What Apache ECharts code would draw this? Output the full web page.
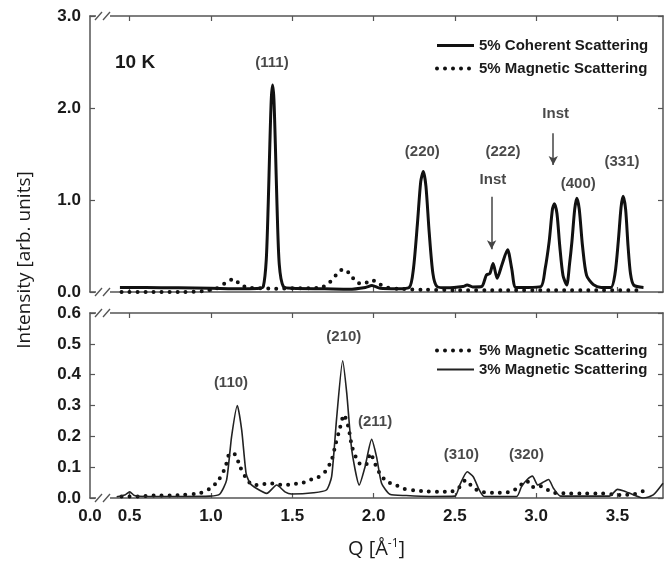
<!DOCTYPE html>
<html lang="en">
<head>
<meta charset="UTF-8">
<title>10 K scattering</title>
<script src="https://cdn.jsdelivr.net/npm/echarts@6.0.0/dist/echarts.min.js"></script>
<style>html,body{margin:0;padding:0;background:#fff;}</style>
</head>
<body>
<div id="main" style="width:670px;height:567px;"></div>
<script type="text/javascript">
// Q [1/A] vs intensity
var coherent5 = [[0.44,0.05],[0.6,0.05],[0.8,0.045],[1.0,0.04],[1.2,0.035],[1.30,0.04],[1.322,0.06],[1.34,0.35],[1.352,0.95],[1.362,1.6],[1.371,2.1],[1.379,2.25],[1.387,2.1],[1.396,1.6],[1.406,0.95],[1.42,0.3],[1.445,0.06],[1.5,0.04],[1.7,0.035],[1.85,0.03],[1.95,0.05],[1.99,0.07],[2.04,0.04],[2.15,0.035],[2.22,0.05],[2.245,0.25],[2.27,0.75],[2.29,1.2],[2.306,1.31],[2.322,1.15],[2.342,0.65],[2.365,0.2],[2.39,0.06],[2.45,0.045],[2.55,0.06],[2.575,0.076],[2.61,0.055],[2.665,0.06],[2.694,0.185],[2.715,0.2],[2.735,0.31],[2.76,0.15],[2.79,0.3],[2.824,0.46],[2.85,0.25],[2.875,0.05],[2.95,0.05],[3.03,0.06],[3.055,0.25],[3.08,0.55],[3.1,0.9],[3.112,0.96],[3.128,0.85],[3.145,0.5],[3.165,0.18],[3.188,0.076],[3.205,0.3],[3.22,0.55],[3.237,0.9],[3.25,1.02],[3.265,0.9],[3.285,0.5],[3.31,0.18],[3.352,0.08],[3.4,0.05],[3.46,0.05],[3.485,0.2],[3.505,0.55],[3.522,0.92],[3.535,1.04],[3.55,0.9],[3.565,0.5],[3.58,0.2],[3.60,0.075],[3.66,0.05]];
var magnetic5Top = [[0.45,0.0],[0.6,0.0],[0.8,0.0],[0.95,0.01],[1.035,0.04],[1.09,0.10],[1.137,0.14],[1.185,0.076],[1.234,0.047],[1.3,0.04],[1.4,0.035],[1.5,0.04],[1.6,0.04],[1.68,0.05],[1.728,0.10],[1.769,0.185],[1.814,0.25],[1.855,0.195],[1.892,0.11],[1.937,0.087],[1.988,0.13],[2.035,0.087],[2.08,0.05],[2.15,0.035],[2.3,0.025],[2.5,0.02],[2.8,0.02],[3.1,0.02],[3.4,0.02],[3.64,0.02]];
var magnetic5 = [[0.45,0.005],[0.55,0.005],[0.65,0.008],[0.75,0.008],[0.83,0.01],[0.9,0.013],[0.94,0.017],[0.994,0.031],[1.04,0.053],[1.086,0.096],[1.117,0.145],[1.15,0.14],[1.18,0.10],[1.217,0.064],[1.257,0.042],[1.3,0.042],[1.35,0.048],[1.4,0.045],[1.45,0.042],[1.5,0.045],[1.557,0.048],[1.605,0.058],[1.654,0.066],[1.702,0.085],[1.742,0.123],[1.769,0.18],[1.79,0.22],[1.818,0.27],[1.845,0.23],[1.866,0.17],[1.89,0.134],[1.926,0.107],[1.957,0.11],[1.98,0.145],[2.01,0.11],[2.043,0.075],[2.084,0.053],[2.136,0.042],[2.187,0.03],[2.25,0.025],[2.3,0.022],[2.4,0.02],[2.47,0.02],[2.52,0.031],[2.566,0.058],[2.61,0.035],[2.66,0.02],[2.75,0.017],[2.82,0.018],[2.86,0.024],[2.9,0.04],[2.94,0.056],[2.977,0.035],[3.015,0.04],[3.06,0.03],[3.1,0.017],[3.2,0.015],[3.3,0.015],[3.4,0.015],[3.52,0.01],[3.6,0.012],[3.663,0.024]];
var magnetic3 = [[0.42,0.004],[0.47,0.01],[0.5,0.02],[0.53,0.008],[0.6,0.005],[0.8,0.005],[0.994,0.006],[1.055,0.013],[1.096,0.058],[1.127,0.20],[1.162,0.30],[1.189,0.22],[1.216,0.08],[1.24,0.048],[1.281,0.031],[1.343,0.015],[1.404,0.042],[1.455,0.02],[1.496,0.013],[1.63,0.017],[1.71,0.026],[1.742,0.069],[1.773,0.26],[1.81,0.445],[1.835,0.34],[1.866,0.155],[1.912,0.042],[1.947,0.10],[1.988,0.19],[2.018,0.134],[2.049,0.048],[2.1,0.012],[2.2,0.008],[2.35,0.005],[2.5,0.006],[2.53,0.042],[2.576,0.085],[2.613,0.069],[2.65,0.026],[2.68,0.005],[2.88,0.005],[2.91,0.037],[2.945,0.06],[2.977,0.071],[3.01,0.042],[3.04,0.05],[3.076,0.06],[3.107,0.031],[3.15,0.006],[3.45,0.006],[3.5,0.028],[3.54,0.023],[3.6,0.01],[3.66,0.0],[3.72,0.01],[3.78,0.048]];

// peak annotations: [text, Q, intensity]
var topLabels = [['(111)',1.375,2.49],['(220)',2.30,1.52],['(222)',2.796,1.52],['Inst',2.734,1.22],['Inst',3.12,1.94],['(400)',3.259,1.18],['(331)',3.528,1.42]];
var topArrows = [[2.726,1.036,0.464],[3.105,1.725,1.38]]; // Q, from, to
var bottomLabels = [['(110)',1.123,0.372],['(210)',1.817,0.522],['(211)',2.009,0.247],['(310)',2.54,0.139],['(320)',2.94,0.139]];

// axis break: left edge is labelled 0.0
var xMin = 0.256, xMax = 3.78;
var xTicks = [0.5, 1.0, 1.5, 2.0, 2.5, 3.0, 3.5];

var chart = echarts.init(document.getElementById('main'));

var LEFT = 90, WIDTH = 573;
var TOP1 = 16, H1 = 276, TOP2 = 313, H2 = 185;
var AX = '#555';
var FONT = '"Liberation Sans", Arial, sans-serif';
var SANS = '"Open Sans", sans-serif';

function xAxisOf(g, pos, labels) {
    return {
        gridIndex: g, type: 'value', position: pos, min: xMin, max: xMax,
        axisLine: {onZero: false, lineStyle: {color: AX, width: 1.5}},
        axisTick: {inside: true, length: 5, customValues: xTicks, lineStyle: {color: AX, width: 1.2}},
        axisLabel: labels ? {
            customValues: [xMin].concat(xTicks), margin: 10, fontSize: 17, fontWeight: 'bold', color: '#1a1a1a', fontFamily: FONT,
            formatter: function (v) { return v < 0.4 ? '0.0' : v.toFixed(1); }
        } : {show: false},
        splitLine: {show: false}
    };
}
function yAxisOf(g, pos, max, step, labels) {
    return {
        gridIndex: g, type: 'value', position: pos, min: 0, max: max, interval: step,
        axisLine: {show: true, lineStyle: {color: AX, width: 1.5}},
        axisTick: {show: true, inside: true, length: 5, lineStyle: {color: AX, width: 1.2}},
        axisLabel: labels ? {margin: 9, fontSize: 17, fontWeight: 'bold', color: '#1a1a1a', fontFamily: FONT,
            formatter: function (v) { return v.toFixed(1); }} : {show: false},
        splitLine: {show: false}
    };
}

function labelSeries(list, xi, yi) {
    return {
        type: 'scatter', xAxisIndex: xi, yAxisIndex: yi, silent: true,
        symbolSize: 1, itemStyle: {color: 'transparent'},
        label: {show: true, position: 'inside', formatter: '{b}', color: '#1a1a1a',
            fontSize: 15, fontWeight: 'bold', fontFamily: FONT},
        data: list.map(function (d) { return {name: d[0], value: [d[1], d[2]]}; }),
        z: 5
    };
}

// "//" break marks on the x axis lines
var breaks = [];
[TOP1, TOP1 + H1, TOP2, TOP2 + H2].forEach(function (y) {
    breaks.push({type: 'rect', shape: {x: 96, y: y - 3, width: 14, height: 6}, style: {fill: '#fff'}, z: 100});
    breaks.push({type: 'line', shape: {x1: 95, y1: y + 4, x2: 102, y2: y - 4}, style: {stroke: AX, lineWidth: 1.3}, z: 101});
    breaks.push({type: 'line', shape: {x1: 103, y1: y + 4, x2: 110, y2: y - 4}, style: {stroke: AX, lineWidth: 1.3}, z: 101});
});

var dotted = {color: '#111', width: 4, type: [0, 8], cap: 'round'};
var solidThick = {color: '#111', width: 3};
var solidThin = {color: '#222', width: 1.6};
var legendText = {fontSize: 15, fontWeight: 'bold', color: '#1a1a1a', fontFamily: FONT};
var noMarker = {color: 'transparent', borderColor: 'transparent', borderWidth: 0, opacity: 0};

var option = {
    animation: false,
    backgroundColor: '#fff',
    title: {text: '10 K', left: 110, top: 48, textStyle: {fontSize: 19, fontWeight: 'bold', color: '#1a1a1a', fontFamily: FONT}},
    grid: [
        {left: LEFT, top: TOP1, width: WIDTH, height: H1},
        {left: LEFT, top: TOP2, width: WIDTH, height: H2}
    ],
    xAxis: [
        xAxisOf(0, 'bottom', false),
        xAxisOf(0, 'top', false),
        Object.assign(xAxisOf(1, 'bottom', true), {
            name: 'Q [Å{sup|-1}]', nameLocation: 'middle', nameGap: 40,
            nameTextStyle: {fontSize: 20, color: '#1a1a1a', fontFamily: SANS,
                rich: {sup: {fontSize: 12, verticalAlign: 'top', padding: [0, 0, 10, 0], fontFamily: SANS, color: '#1a1a1a'}}}
        }),
        xAxisOf(1, 'top', false)
    ],
    yAxis: [
        yAxisOf(0, 'left', 3, 1, true),
        yAxisOf(0, 'right', 3, 1, false),
        yAxisOf(1, 'left', 0.6, 0.1, true),
        yAxisOf(1, 'right', 0.6, 0.1, false)
    ],
    legend: [
        {data: [{name: '5% Coherent Scattering', lineStyle: solidThick}, {name: '5% Magnetic Scattering', lineStyle: dotted}],
            orient: 'vertical', left: 430, top: 33,
            itemWidth: 37, itemHeight: 12, itemGap: 8, selectedMode: false, itemStyle: noMarker, textStyle: legendText},
        {data: [{name: '5% Magnetic Scattering', lineStyle: dotted}, {name: '3% Magnetic Scattering', lineStyle: {color: '#222', width: 2}}],
            orient: 'vertical', left: 430, top: 338,
            itemWidth: 37, itemHeight: 12, itemGap: 4, selectedMode: false, itemStyle: noMarker, textStyle: legendText}
    ],
    graphic: breaks.concat([
        {type: 'text', x: 25, y: 260, rotation: Math.PI / 2, z: 100,
            style: {text: 'Intensity [arb. units]', align: 'center', verticalAlign: 'middle',
                font: '19px "Open Sans", sans-serif', fill: '#1a1a1a'}}
    ]),
    series: [
        {
            name: '5% Coherent Scattering', type: 'line', xAxisIndex: 0, yAxisIndex: 0,
            data: coherent5, showSymbol: false, symbol: 'none', smooth: 0.25,
            lineStyle: solidThick, itemStyle: {color: '#111'}, z: 3,
            markLine: {
                silent: true, symbol: ['none', 'arrow'], symbolSize: [7, 9],
                lineStyle: {color: '#444', width: 1.5, type: 'solid'}, label: {show: false},
                data: topArrows.map(function (a) { return [{coord: [a[0], a[1]]}, {coord: [a[0], a[2]]}]; })
            }
        },
        {
            name: '5% Magnetic Scattering', type: 'line', xAxisIndex: 0, yAxisIndex: 0,
            data: magnetic5Top, showSymbol: false, symbol: 'none', smooth: 0.25,
            lineStyle: dotted, itemStyle: {color: '#111'}, z: 2
        },
        labelSeries(topLabels, 0, 0),
        {
            name: '5% Magnetic Scattering', type: 'line', xAxisIndex: 2, yAxisIndex: 2,
            data: magnetic5, showSymbol: false, symbol: 'none', smooth: 0.25,
            lineStyle: dotted, itemStyle: {color: '#111'}, z: 2
        },
        {
            name: '3% Magnetic Scattering', type: 'line', xAxisIndex: 2, yAxisIndex: 2,
            data: magnetic3, showSymbol: false, symbol: 'none', smooth: 0.2,
            lineStyle: solidThin, itemStyle: {color: '#222'}, z: 3
        },
        labelSeries(bottomLabels, 2, 2)
    ]
};

chart.setOption(option);
</script>
</body>
</html>
